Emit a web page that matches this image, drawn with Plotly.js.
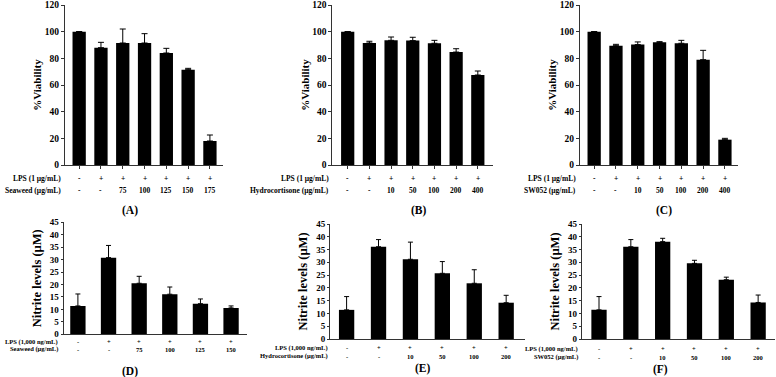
<!DOCTYPE html>
<html>
<head>
<meta charset="utf-8">
<script src="https://cdn.plot.ly/plotly-3.0.1.min.js"></script>
<style>
  html, body { margin: 0; padding: 0; background: #fff; }
  #chart { width: 776px; height: 377px; }
</style>
</head>
<body>
<div id="chart"></div>
<script>
// Cell viability (%) of RAW 264.7 cells, panels A-C
const viabilitySeaweed = [100, 88, 91.5, 91.5, 84, 71.5, 18];
const viabilitySeaweedErr = [0, 4, 10.5, 7, 3.5, 1, 4.5];
const viabilityHydro = [100, 91.5, 93.5, 93.3, 91.3, 84.7, 67.5];
const viabilityHydroErr = [0, 1.3, 2.5, 2.5, 2.2, 2.5, 3];
const viabilitySW = [100, 89.5, 90.3, 92, 91.3, 79, 19];
const viabilitySWErr = [0, 1, 2, 0.5, 2.2, 7, 1];

// Nitrite production (µM), panels D-F
const nitriteSeaweed = [11.4, 30.8, 20.5, 16.1, 12.3, 10.6];
const nitriteSeaweedErr = [4.8, 4.9, 2.8, 2.9, 1.9, 0.8];
const nitriteHydro = [11.4, 36.1, 31.2, 25.7, 21.8, 14.2];
const nitriteHydroErr = [5.2, 2.8, 6.7, 4.6, 5.3, 2.9];
const nitriteSW = [11.4, 36.1, 38.1, 29.6, 23.2, 14.3];
const nitriteSWErr = [5.2, 2.8, 1.3, 1.2, 1.0, 2.9];

// Treatment rows printed under each axis
const lpsTop = ["-", "+", "+", "+", "+", "+", "+"];
const doseSeaweedTop = ["-", "-", "75", "100", "125", "150", "175"];
const doseHydroTop = ["-", "-", "10", "50", "100", "200", "400"];
const doseSWTop = ["-", "-", "10", "50", "100", "200", "400"];
const lpsBottom = ["-", "+", "+", "+", "+", "+"];
const doseSeaweedBottom = ["-", "-", "75", "100", "125", "150"];
const doseHydroBottom = ["-", "-", "10", "50", "100", "200"];
const doseSWBottom = ["-", "-", "10", "50", "100", "200"];

const W = 776, H = 377;
const FONT = "Liberation Serif, Times New Roman, serif";
const fx = p => p / W;
const fy = p => 1 - p / H;

// Panel geometry (pixels): x axis extent, y axis extent, category range, bar width
const panels = [
  {vals: viabilitySeaweed, err: viabilitySeaweedErr, x0: 65, x1: 223, yb: 165, yt: 5, xr: [-0.65, 6.6], yr: [0, 120], dt: 20, bw: 0.61,
   lps: lpsTop, dose: doseSeaweedTop, lpsName: "LPS (1 µg/mL)", doseName: "Seaweed (µg/mL)", rowY: [178, 190], nameX: 63,
   tag: "(A)", tagX: 130, tagY: 210.5, title: "%Viability", top: true},
  {vals: viabilityHydro, err: viabilityHydroErr, x0: 332.3, x1: 493, yb: 165, yt: 5, xr: [-0.71, 6.7], yr: [0, 120], dt: 20, bw: 0.61,
   lps: lpsTop, dose: doseHydroTop, lpsName: "LPS (1 µg/mL)", doseName: "Hydrocortisone (µg/mL)", rowY: [178, 190], nameX: 331,
   tag: "(B)", tagX: 419, tagY: 210.5, title: "%Viability", top: true},
  {vals: viabilitySW, err: viabilitySWErr, x0: 580, x1: 738, yb: 165, yt: 5, xr: [-0.65, 6.6], yr: [0, 120], dt: 20, bw: 0.61,
   lps: lpsTop, dose: doseSWTop, lpsName: "LPS (1 µg/mL)", doseName: "SW052 (µg/mL)", rowY: [178, 190], nameX: 578,
   tag: "(C)", tagX: 664, tagY: 210.5, title: "%Viability", top: true},
  {vals: nitriteSeaweed, err: nitriteSeaweedErr, x0: 63.5, x1: 247, yb: 334.3, yt: 222.3, xr: [-0.47, 5.52], yr: [0, 45], dt: 5, bw: 0.5,
   lps: lpsBottom, dose: doseSeaweedBottom, lpsName: "LPS (1,000 ng/mL)", doseName: "Seaweed (µg/mL)", rowY: [341.5, 349], nameX: 60,
   tag: "(D)", tagX: 130, tagY: 371, title: "Nitrite levels (µM)", top: false},
  {vals: nitriteHydro, err: nitriteHydroErr, x0: 330, x1: 525, yb: 339, yt: 224, xr: [-0.52, 5.59], yr: [0, 45], dt: 5, bw: 0.48,
   lps: lpsBottom, dose: doseHydroBottom, lpsName: "LPS (1,000 ng/mL)", doseName: "Hydrocortisone (µg/mL)", rowY: [347.5, 356], nameX: 330,
   tag: "(E)", tagX: 423, tagY: 368, title: "Nitrite levels (µM)", top: false},
  {vals: nitriteSW, err: nitriteSWErr, x0: 581.7, x1: 775, yb: 339, yt: 224, xr: [-0.544, 5.53], yr: [0, 45], dt: 5, bw: 0.48,
   lps: lpsBottom, dose: doseSWBottom, lpsName: "LPS (1,000 ng/mL)", doseName: "SW052 (µg/mL)", rowY: [348.5, 357], nameX: 580,
   tag: "(F)", tagX: 660, tagY: 369, title: "Nitrite levels (µM)", top: false}
];

const traces = [];
const layout = {
  width: W, height: H,
  margin: {l: 0, r: 0, t: 0, b: 0},
  paper_bgcolor: "#fff", plot_bgcolor: "rgba(0,0,0,0)",
  showlegend: false,
  font: {family: FONT, color: "#000"},
  annotations: []
};

panels.forEach((p, i) => {
  const n = i + 1;
  const xa = n === 1 ? "x" : "x" + n;
  const ya = n === 1 ? "y" : "y" + n;
  const idx = p.vals.map((_, k) => k);
  const rowSize = p.top ? 7.5 : 6.5;

  traces.push({
    type: "bar", x: idx, y: p.vals, xaxis: xa, yaxis: ya,
    width: p.bw,
    marker: {color: "#000", line: {width: 0}},
    error_y: {type: "data", symmetric: false, array: p.err, arrayminus: p.err.map(() => 0),
              color: "#000", thickness: 1, width: p.top ? 3 : 2.5},
    hoverinfo: "skip"
  });

  layout["xaxis" + (n === 1 ? "" : n)] = {
    domain: [fx(p.x0), fx(p.x1)], range: p.xr, anchor: ya,
    showgrid: false, zeroline: false, showticklabels: false,
    tickmode: "array", tickvals: idx,
    ticks: p.top ? "outside" : "", ticklen: 3, tickcolor: "#333", tickwidth: 1,
    showline: true, linecolor: "#333", linewidth: 1, fixedrange: true
  };
  layout["yaxis" + (n === 1 ? "" : n)] = {
    domain: [fy(p.yb), fy(p.yt)], range: p.yr, anchor: xa,
    showgrid: false, zeroline: false,
    dtick: p.dt, tick0: 0,
    ticks: "outside", ticklen: p.top ? 3 : 2, tickcolor: "#333", tickwidth: 1,
    showline: true, linecolor: "#333", linewidth: 1,
    tickfont: {family: FONT, size: p.top ? 9.5 : 9, color: "#000", weight: "bold"},
    title: {text: "<b>" + p.title + "</b>", standoff: p.top ? 0 : 5,
            font: {family: FONT, size: p.top ? 11 : 12.5, color: "#000"}},
    fixedrange: true
  };

  // treatment rows under the axis
  const rows = [[p.lps, p.lpsName], [p.dose, p.doseName]];
  rows.forEach((row, r) => {
    const ry = fy(p.rowY[r]);
    layout.annotations.push({
      xref: "paper", yref: "paper", x: fx(p.nameX), y: ry, xanchor: "right", yanchor: "middle",
      text: "<b>" + row[1] + "</b>", showarrow: false,
      font: {family: FONT, size: rowSize, color: "#000"}
    });
    row[0].forEach((t, k) => {
      layout.annotations.push({
        xref: xa, yref: "paper", x: k, y: ry, xanchor: "center", yanchor: "middle",
        text: "<b>" + t + "</b>", showarrow: false,
        font: {family: FONT, size: rowSize, color: "#000"}
      });
    });
  });

  // panel letter
  layout.annotations.push({
    xref: "paper", yref: "paper", x: fx(p.tagX), y: fy(p.tagY), xanchor: "center", yanchor: "middle",
    text: "<b>" + p.tag + "</b>", showarrow: false,
    font: {family: FONT, size: 11.5, color: "#000"}
  });
});

Plotly.newPlot("chart", traces, layout, {displayModeBar: false, staticPlot: true});
</script>
</body>
</html>
